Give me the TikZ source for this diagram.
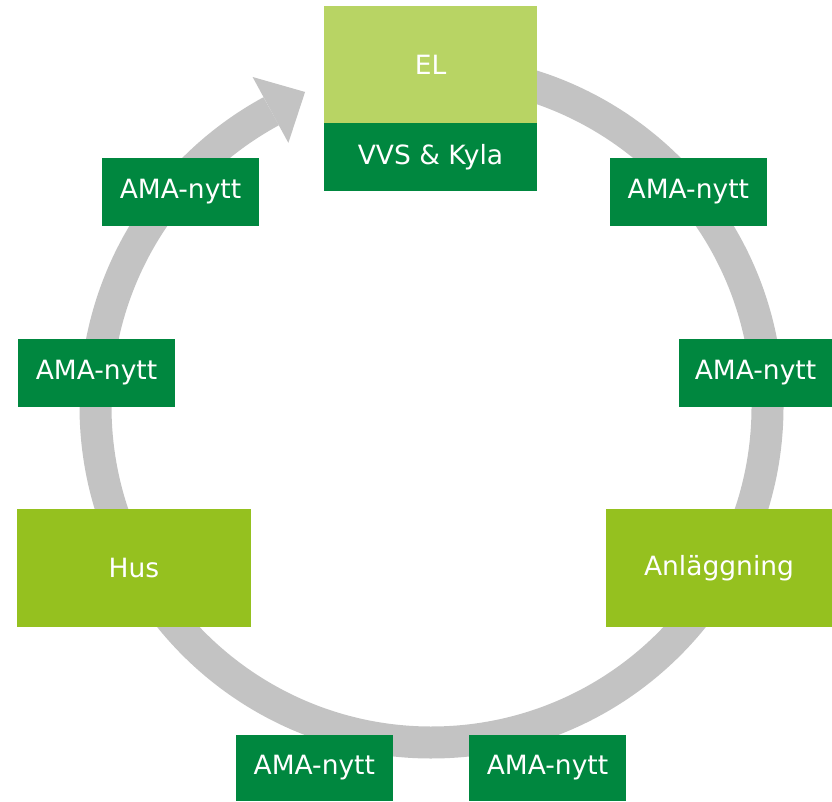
\documentclass[tikz,border=0pt]{standalone}
\usepackage{fontspec}
\setmainfont{DejaVu Sans}
\definecolor{lightgreen}{HTML}{B8D464}
\definecolor{midgreen}{HTML}{95C11F}
\definecolor{darkgreen}{HTML}{00873F}
\definecolor{ringgray}{HTML}{C3C3C3}
\begin{document}
\begin{tikzpicture}[x=1pt,y=1pt,
  box/.style={inner sep=0pt, outer sep=0pt, text=white, font=\fontsize{26.5pt}{30pt}\selectfont, anchor=center},
  ama/.style={box, fill=darkgreen, minimum width=157pt, minimum height=68pt},
  big/.style={box, fill=midgreen, minimum height=117.5pt},
  ring/.style={draw=ringgray, line width=32pt}]
\useasboundingbox (0,0) rectangle (832,801);
\coordinate (C) at (431.5,394.5);
% ring
\draw[ring] ([shift={(92:336pt)}]C) arc[start angle=92, end angle=-241.5, radius=336pt];
\fill[ringgray] ([shift={(118.5:300pt)}]C) -- ([shift={(111.9:339pt)}]C) -- ([shift={(118.5:375pt)}]C) -- cycle;
% boxes
\node[box, fill=lightgreen, minimum width=213pt, minimum height=117pt] (el) at (430.5,736.5) {EL};
\node[box, fill=darkgreen, minimum width=213pt, minimum height=67.7pt] (vvs) at (430.5,644.2) {VVS \& Kyla};
\node[ama] (ama1) at (180.5,609.3) {AMA-nytt};
\node[ama, minimum width=156.7pt] (ama2) at (688.3,609.3) {AMA-nytt};
\node[ama] (ama3) at (96.5,428.2) {AMA-nytt};
\node[ama, minimum width=153pt] (ama4) at (755.5,428.2) {AMA-nytt};
\node[big, minimum width=234pt] (hus) at (134,233.2) {Hus};
\node[big, minimum width=226pt] (anl) at (719,233.2) {Anläggning};
\node[ama, minimum width=156.6pt, minimum height=66pt] (ama5) at (314.3,33) {AMA-nytt};
\node[ama, minimum height=66pt] (ama6) at (547.5,33) {AMA-nytt};
\end{tikzpicture}
\end{document}
